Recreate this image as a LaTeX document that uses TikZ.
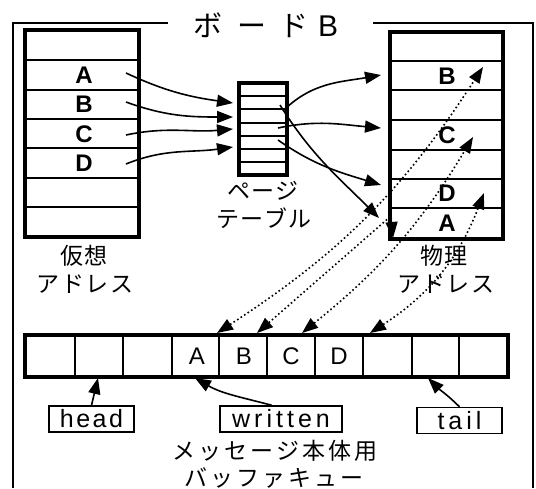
\documentclass[tikz,border=0pt]{standalone}
\usepackage{fontspec}
\setmainfont{Liberation Sans}
\newfontfamily\jp{Noto Sans CJK JP}
\newfontfamily\jps[LetterSpace=7]{Noto Sans CJK JP}
\newfontfamily\jpw[LetterSpace=13]{Noto Sans CJK JP}
\newfontfamily\lsh[LetterSpace=10]{Liberation Sans}
\newfontfamily\lsw[LetterSpace=16]{Liberation Sans}
\usetikzlibrary{arrows.meta}
\begin{document}
\begin{tikzpicture}[x=1pt,y=1pt,
  tbl/.style={line width=3.2pt},
  rowline/.style={line width=1.9pt},
  frameline/.style={line width=1.2pt},
  arr/.style={line width=1.6pt,-{Triangle[length=16pt,width=12pt]}},
  darr/.style={line width=1.6pt,dash pattern=on 1.6pt off 2.6pt,
    {Triangle[length=16pt,width=12pt]}-{Triangle[length=16pt,width=12pt]}},
  lbl/.style={font=\jps\fontsize{23}{26}\selectfont,inner sep=0pt},
  lblw/.style={font=\jpw\fontsize{23}{26}\selectfont,inner sep=0pt},
  tletter/.style={font=\bfseries\fontsize{24}{26}\selectfont,inner sep=0pt},
  bletter/.style={font=\fontsize{24}{26}\selectfont,inner sep=0pt},
  ptr/.style={draw,line width=1.3pt,inner sep=0pt,minimum height=26pt}
]
\useasboundingbox (0,0) rectangle (536,-488);

% frame
\draw[frameline] (168,-23) -- (13,-23) -- (13,-488);
\draw[frameline] (373,-23) -- (533,-23) -- (533,-488);
\node[inner sep=0pt,anchor=west] (title) at (186,-25) {\makebox[44pt]{\jp\fontsize{29}{32}\selectfont ボ}\makebox[44pt]{\jp\fontsize{29}{32}\selectfont ー}\makebox[40pt]{\jp\fontsize{29}{32}\selectfont ド}\makebox[28pt]{\fontsize{30}{32}\selectfont B}};

% virtual address table
\draw[tbl] (25,-30) rectangle (139,-237);
\foreach \yy in {60,90,119,148,178,207} \draw[rowline] (25,-\yy) -- (139,-\yy);
\node[tletter] (vA) at (84,-75) {A};
\node[tletter] (vB) at (84,-104) {B};
\node[tletter] (vC) at (84,-134) {C};
\node[tletter] (vD) at (84,-163) {D};
\node[lbl] (vl1) at (84,-256) {仮想};
\node[lbl] (vl2) at (85,-284) {アドレス};

% page table
\draw[tbl] (239,-83) rectangle (287,-175);
\foreach \yy in {96,109,123,136,149,162} \draw[line width=1.4pt] (239,-\yy) -- (287,-\yy);
\node[lbl] (pl1) at (263,-191) {ページ};
\node[lbl] (pl2) at (264,-218) {テーブル};

% physical address table
\draw[tbl] (390,-32) rectangle (503,-239);
\foreach \yy in {61,90,120,150,179,208} \draw[rowline] (390,-\yy) -- (503,-\yy);
\node[tletter] (fB) at (447,-76) {B};
\node[tletter] (fC) at (447,-135) {C};
\node[tletter] (fD) at (447,-193) {D};
\node[tletter] (fA) at (447,-223) {A};
\node[lbl] (fl1) at (444,-256) {物理};
\node[lbl] (fl2) at (446,-284) {アドレス};

% buffer queue
\draw[tbl] (25,-335) rectangle (508,-377);
\foreach \xx in {75,123,172,219,267,315,363,412,459} \draw[rowline] (\xx,-335) -- (\xx,-377);
\node[bletter] (bA) at (197,-356) {A};
\node[bletter] (bB) at (244,-356) {B};
\node[bletter] (bC) at (291,-356) {C};
\node[bletter] (bD) at (339,-356) {D};
\node[lblw] (ql1) at (275,-451) {メッセージ本体用};
\node[lblw] (ql2) at (274,-478) {バッファキュー};

% pointers
\node[ptr,minimum width=85pt,font=\lsh\fontsize{25}{27}\selectfont] (head) at (91.5,-419) {head};
\node[ptr,minimum width=122pt,font=\lsw\fontsize{25}{27}\selectfont] (written) at (281,-419) {written};
\node[ptr,minimum width=85pt,font=\lsw\fontsize{25}{27}\selectfont] (tail) at (459.5,-420.5) {tail};

% coordinates
\coordinate (v1) at (126,-73);
\coordinate (v2) at (126,-102);
\coordinate (v3) at (126,-135);
\coordinate (v4) at (126,-164);
\coordinate (t1) at (233,-103);
\coordinate (t2) at (233,-117);
\coordinate (t3) at (233,-129);
\coordinate (t4) at (233,-147);
\coordinate (p1) at (283,-111);
\coordinate (p2) at (278,-128);
\coordinate (p3) at (278,-140);
\coordinate (p4) at (280,-105);
\coordinate (q1) at (381,-75);
\coordinate (q2) at (381,-128);
\coordinate (q3) at (381,-185);
\coordinate (q4) at (379,-218);
\coordinate (b1) at (217,-333);
\coordinate (b2) at (257,-333);
\coordinate (b3) at (302,-333);
\coordinate (b4) at (370,-333);
\coordinate (r1) at (483,-67);
\coordinate (m2) at (391,-216);
\coordinate (r2) at (393,-238);
\coordinate (r3) at (473,-137);
\coordinate (r4) at (484,-193);
\coordinate (hq) at (98,-378);
\coordinate (wq) at (195,-378);
\coordinate (tq) at (428,-378);

% virtual -> page table
\draw[arr] (v1) to[out=-25,in=172] (t1);
\draw[arr] (v2) to[out=-20,in=180] (t2);
\draw[arr] (v3) to[out=12,in=185] (t3);
\draw[arr] (v4) to[out=22,in=188] (t4);

% page table -> physical
\draw[arr] (p1) to[out=45,in=190] (q1);
\draw[arr] (p2) to[out=12,in=175] (q2);
\draw[arr] (p3) to[out=-35,in=163] (q3);
\draw[arr] (p4) to[out=-58,in=135] (q4);

% buffer <-> physical (dotted)
\draw[darr] (b1) to[bend right=12] (r1);
\draw[darr] (b2) -- (m2) -- (r2);
\draw[darr] (b3) to[bend right=10] (r3);
\draw[darr] (b4) to[bend right=18] (r4);

% pointer arrows
\draw[arr] (head.north) -- (hq);
\draw[arr] ([xshift=-9pt]written.north) to[out=165,in=-30] (wq);
\draw[arr] (tail.north) to[out=135,in=-45] (tq);
\end{tikzpicture}
\end{document}
